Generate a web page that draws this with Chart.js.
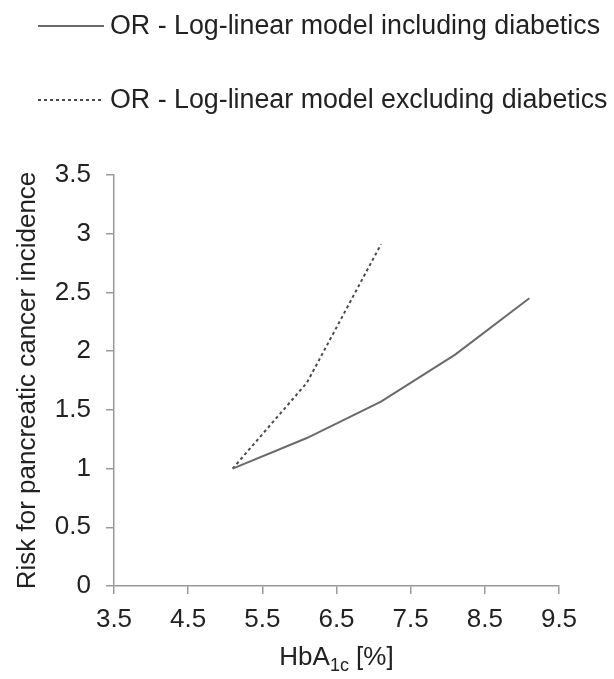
<!DOCTYPE html>
<html>
<head>
<meta charset="utf-8">
<script src="https://cdn.jsdelivr.net/npm/chart.js@4/dist/chart.umd.min.js"></script>
<style>
  html, body { margin: 0; padding: 0; background: #ffffff; }
  canvas { display: block; }
</style>
</head>
<body>
<canvas id="chart" width="614" height="679"></canvas>
<script>
// HbA1c level (%) at which each odds ratio is plotted
const hba1cLevels = [5.1, 6.1, 7.1, 8.1, 9.1];
// Odds ratios from the log-linear models
const orIncludingDiabetics = [1, 1.26, 1.57, 1.97, 2.45];
const orExcludingDiabetics = [1, 1.73, 2.91];
const seriesLabels = [
  'OR - Log-linear model including diabetics',
  'OR - Log-linear model excluding diabetics'
];
const xTicks = [3.5, 4.5, 5.5, 6.5, 7.5, 8.5, 9.5];
const yTicks = [0, 0.5, 1, 1.5, 2, 2.5, 3, 3.5];

const FONT = '"Liberation Sans", Arial, Helvetica, sans-serif';
const TEXT = '#222222';
const AXIS = '#9a9a9a';

const toPoints = (ys) => ys.map((y, i) => ({ x: hba1cLevels[i], y }));

// Legend drawn as two stacked rows above the plot
const stackedLegend = {
  id: 'stackedLegend',
  afterDraw(chart) {
    const ctx = chart.ctx;
    const rowY = [26, 100];
    chart.data.datasets.forEach((ds, i) => {
      const y = rowY[i];
      ctx.save();
      ctx.strokeStyle = ds.borderColor;
      ctx.lineWidth = ds.borderWidth;
      ctx.setLineDash(ds.borderDash || []);
      ctx.beginPath();
      ctx.moveTo(38, y);
      ctx.lineTo(104, y);
      ctx.stroke();
      ctx.setLineDash([]);
      ctx.fillStyle = TEXT;
      ctx.font = '26.8px ' + FONT;
      ctx.textAlign = 'left';
      ctx.textBaseline = 'middle';
      ctx.fillText(ds.label, 110, y + 1);
      ctx.restore();
    });
  }
};

// X axis title with a subscripted "1c"
const xTitle = {
  id: 'xTitle',
  afterDraw(chart) {
    const ctx = chart.ctx;
    const area = chart.chartArea;
    const base = 665;
    const parts = [
      { t: 'HbA', size: 26, dy: 0 },
      { t: '1c', size: 18, dy: 6 },
      { t: ' [%]', size: 26, dy: 0 }
    ];
    ctx.save();
    ctx.fillStyle = TEXT;
    ctx.textBaseline = 'alphabetic';
    ctx.textAlign = 'left';
    let total = 0;
    parts.forEach(p => { ctx.font = p.size + 'px ' + FONT; p.w = ctx.measureText(p.t).width; total += p.w; });
    let x = (area.left + area.right) / 2 - total / 2;
    parts.forEach(p => {
      ctx.font = p.size + 'px ' + FONT;
      ctx.fillText(p.t, x, base + p.dy);
      x += p.w;
    });
    ctx.restore();
  }
};

new Chart(document.getElementById('chart'), {
  type: 'line',
  data: {
    datasets: [
      {
        label: seriesLabels[0],
        data: toPoints(orIncludingDiabetics),
        borderColor: '#6a6a6a',
        borderWidth: 2,
        pointRadius: 0,
        tension: 0,
        fill: false
      },
      {
        label: seriesLabels[1],
        data: toPoints(orExcludingDiabetics),
        borderColor: '#4a4a4a',
        borderWidth: 2,
        borderDash: [3, 3],
        pointRadius: 0,
        tension: 0,
        fill: false
      }
    ]
  },
  options: {
    responsive: false,
    animation: false,
    layout: { padding: { left: 0, top: 175, right: 55, bottom: 0 } },
    plugins: {
      legend: { display: false },
      tooltip: { enabled: false }
    },
    scales: {
      x: {
        type: 'linear',
        min: 3.5,
        max: 9.5,
        afterBuildTicks: s => { s.ticks = xTicks.map(v => ({ value: v })); },
        afterFit: s => { s.height = 93; },
        border: { color: AXIS, width: 1.5 },
        grid: { display: true, drawOnChartArea: false, drawTicks: true, tickLength: 8, color: AXIS, lineWidth: 1.5 },
        ticks: {
          color: TEXT,
          font: { family: FONT, size: 26 },
          padding: 10,
          maxRotation: 0,
          autoSkip: false,
          callback: v => String(v)
        }
      },
      y: {
        type: 'linear',
        min: 0,
        max: 3.5,
        afterBuildTicks: s => { s.ticks = yTicks.map(v => ({ value: v })); },
        afterFit: s => { s.width = 114; },
        border: { color: AXIS, width: 1.5 },
        grid: { display: true, drawOnChartArea: false, drawTicks: true, tickLength: 8, color: AXIS, lineWidth: 1.5 },
        ticks: {
          color: TEXT,
          font: { family: FONT, size: 26 },
          padding: 15,
          autoSkip: false,
          callback: v => String(v)
        },
        title: {
          display: true,
          text: 'Risk for pancreatic cancer incidence',
          color: TEXT,
          font: { family: FONT, size: 26 },
          padding: { top: 12, bottom: 0 }
        }
      }
    }
  },
  plugins: [stackedLegend, xTitle]
});
</script>
</body>
</html>
